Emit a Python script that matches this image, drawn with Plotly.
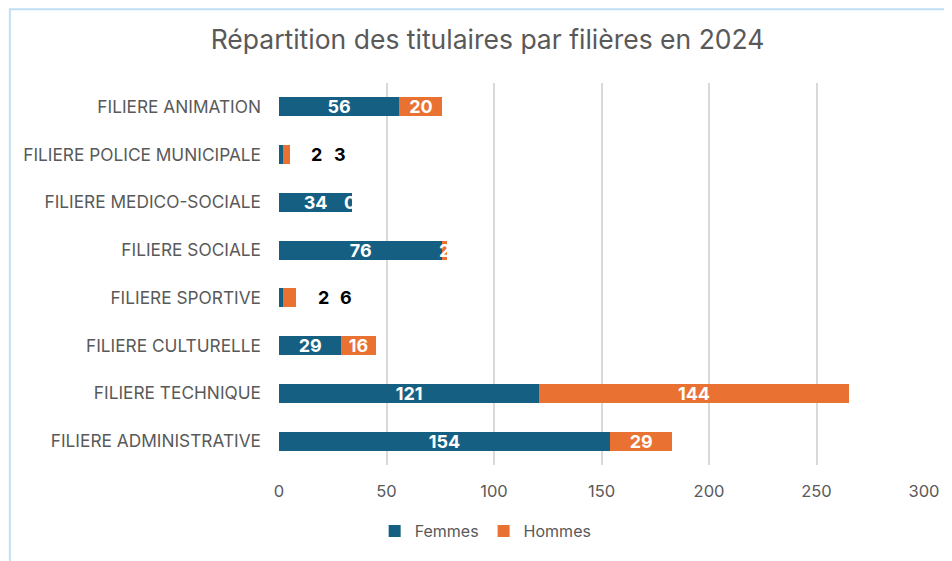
import plotly.graph_objects as go

categories = ["FILIERE ADMINISTRATIVE", "FILIERE TECHNIQUE", "FILIERE CULTURELLE",
              "FILIERE SPORTIVE", "FILIERE SOCIALE", "FILIERE MEDICO-SOCIALE",
              "FILIERE POLICE MUNICIPALE", "FILIERE ANIMATION"]
femmes = [154, 121, 29, 2, 76, 34, 2, 56]
hommes = [29, 144, 16, 6, 2, 0, 3, 20]
# categories whose labels are placed outside the bar (too small)
outside_labels = ["FILIERE SPORTIVE", "FILIERE POLICE MUNICIPALE"]
x_ticks = [0, 50, 100, 150, 200, 250, 300]

FONT = "Inter"
BLUE = "#156082"
ORANGE = "#E97132"
GRAY = "#595959"
LABEL_SIZE = 18

def inside_text(vals):
    return ["" if c in outside_labels else str(v) for c, v in zip(categories, vals)]

fig = go.Figure()
fig.add_trace(go.Bar(
    y=categories, x=femmes, name="Femmes", orientation="h",
    marker=dict(color=BLUE, line=dict(width=0)),
    text=inside_text(femmes), textposition="inside", insidetextanchor="middle",
    constraintext="none", textangle=0,
    textfont=dict(color="white", size=LABEL_SIZE, family=FONT, weight="bold"),
    hoverinfo="x+name"))
fig.add_trace(go.Bar(
    y=categories, x=hommes, name="Hommes", orientation="h",
    marker=dict(color=ORANGE, line=dict(width=0)),
    text=inside_text(hommes), textposition="inside", insidetextanchor="middle",
    constraintext="none", textangle=0,
    textfont=dict(color="white", size=LABEL_SIZE, family=FONT, weight="bold"),
    hoverinfo="x+name"))

# outside labels for the tiny bars, and white label for zero-width segments
for c, f, h in zip(categories, femmes, hommes):
    if c in outside_labels:
        for val, shift in ((f, 27), (h, 50)):
            fig.add_annotation(x=f + h, y=c, text=f"<b>{val}</b>", showarrow=False,
                               xanchor="center", xshift=shift,
                               font=dict(color="black", size=LABEL_SIZE, family=FONT))
    elif h == 0:
        fig.add_annotation(x=f + h, y=c, text=f"<b>{h}</b>", showarrow=False,
                           xanchor="center", xshift=-2,
                           font=dict(color="white", size=LABEL_SIZE, family=FONT))

# chart border
fig.add_shape(type="rect", xref="paper", yref="paper", x0=-0.4173, x1=1.2,
              y0=-0.4, y1=1.193, line=dict(color="#BFE0F2", width=2), layer="below")

fig.update_layout(
    width=944, height=553, barmode="stack", bargap=0.6,
    paper_bgcolor="white", plot_bgcolor="white",
    margin=dict(l=271, r=26, t=75, b=96),
    font=dict(family=FONT, color=GRAY, size=16),
    title=dict(text="Répartition des titulaires par filières en 2024",
               x=0.508, xref="container", xanchor="center",
               y=0.942, yref="container", yanchor="middle",
               font=dict(size=26.5, color=GRAY, family=FONT)),
    xaxis=dict(range=[0, 300], tickvals=x_ticks, showgrid=True, gridcolor="#D9D9D9",
               gridwidth=1.5, zeroline=False, showline=False, ticks="",
               tickfont=dict(size=16.5, color=GRAY), ticklabelstandoff=14),
    yaxis=dict(categoryorder="array", categoryarray=categories, showgrid=False,
               showline=False, ticks="", ticklabelstandoff=17,
               tickfont=dict(size=17.3, color=GRAY)),
    legend=dict(orientation="h", x=0.506, xref="container", xanchor="center",
                y=0.054, yref="container", yanchor="middle",
                font=dict(size=16, color=GRAY), itemwidth=30, traceorder="normal"),
    showlegend=True,
)

fig.write_html("out.html")
